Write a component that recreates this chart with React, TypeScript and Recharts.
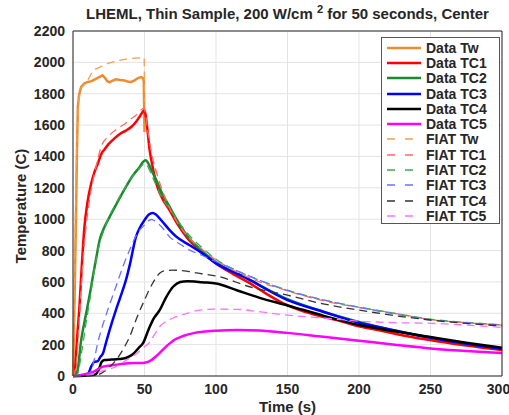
import { LineChart, Line, XAxis, YAxis, CartesianGrid } from "recharts";

// [time (s), temperature (C)]
const dataTw = [
  [0, 0], [0.5, 200], [1, 450], [1.5, 700], [2.2, 1078], [2.8, 1450], [3.4, 1715], [4.2, 1790],
  [5.7, 1843], [8, 1866], [10.4, 1875], [13, 1880], [16, 1895], [18, 1905], [20.6, 1917], [22, 1905],
  [24, 1880], [25.6, 1873], [27, 1880], [30, 1892], [33, 1888], [36, 1885], [38, 1878], [40.7, 1875],
  [43, 1885], [45.5, 1900], [47.7, 1906], [49, 1900], [49.5, 1880], [50, 1556],
];
const dataTC1 = [
  [0, 0], [1, 5], [2, 120], [3, 260], [4.5, 441], [6, 680], [8, 951], [10, 1100], [12.7, 1227],
  [15, 1300], [17.4, 1355], [20, 1420], [22, 1445], [25, 1480], [29, 1515], [33, 1545], [37, 1565],
  [40.7, 1588], [44, 1620], [47, 1660], [50, 1694], [51.3, 1630], [53.6, 1440], [56, 1320],
  [58.3, 1227], [62, 1140], [67.6, 1057], [73, 970], [79.3, 887], [90, 790], [100, 718], [112, 650],
  [123.6, 592], [135, 525], [146.7, 465], [160, 415], [170, 389], [185, 355], [199, 318], [215, 290],
  [230, 260], [249.6, 229], [270, 200], [285, 182], [300, 166],
];
const dataTC2 = [
  [0, 0], [1, 3], [3, 27], [5.7, 229], [9, 390], [12.7, 570], [14, 640], [16, 740], [18.6, 866],
  [22, 950], [25.6, 1015], [30, 1090], [37, 1206], [42, 1280], [46.6, 1333], [49, 1365], [50.8, 1376],
  [53, 1350], [55, 1310], [58.3, 1248], [62, 1170], [67.6, 1078], [73, 990], [79.3, 900], [90, 800],
  [100, 725], [120, 630], [150, 490], [175, 410], [200, 345], [225, 290], [250, 245], [275, 205], [300, 175],
];
const dataTC3 = [
  [0, 0], [8, 2], [10.4, 10], [12.7, 60], [15, 90], [17.4, 95], [19, 120], [21, 145], [23, 210],
  [25.6, 293], [30, 420], [33, 500], [37, 611], [40, 720], [44, 887], [47, 950], [50, 994], [53, 1030],
  [55.9, 1040], [58, 1030], [62, 990], [67.6, 930], [72, 890], [81.6, 834], [90, 785], [100, 718],
  [120, 630], [150, 484], [175, 410], [200, 340], [225, 290], [250, 243], [275, 205], [300, 172],
];
const dataTC4 = [
  [0, 0], [15, 8], [18, 40], [20, 90], [22, 102], [27, 105], [32, 108], [37, 115], [42, 140],
  [46, 180], [49, 210], [53, 300], [56, 360], [60.6, 420], [65, 500], [70, 569], [75, 600], [80, 605],
  [85, 603], [90, 598], [100, 590], [115, 545], [130, 500], [150, 450], [175, 385], [200, 325],
  [225, 285], [250, 248], [275, 212], [300, 180],
];
const dataTC5 = [
  [0, 0], [5, 5], [15, 30], [21, 60], [30, 72], [37, 80], [45, 83], [50, 85], [53.6, 95], [58, 125],
  [62, 160], [66, 195], [70, 225], [77, 255], [85, 275], [100, 289], [115, 293], [130, 290], [150, 275],
  [175, 250], [200, 225], [225, 200], [250, 176], [275, 160], [300, 146],
];
const fiatTw = [
  [0, 0], [1, 600], [2, 1200], [3, 1600], [4, 1760], [6, 1840], [10, 1880], [14, 1950], [20, 1975],
  [25, 1995], [30, 2008], [37, 2020], [43, 2027], [49.8, 2030], [50, 1750],
];
const fiatTC1 = [
  [0, 0], [2, 50], [4, 300], [6, 600], [8, 850], [10, 1020], [13, 1200], [16, 1330], [20, 1470],
  [25, 1530], [30, 1570], [35, 1600], [40, 1635], [45, 1670], [49, 1705], [50, 1700], [52, 1580],
  [55, 1420], [60, 1250], [67.6, 1070], [79.3, 900], [90, 810], [100, 740], [120, 640], [150, 543],
  [175, 480], [200, 437], [225, 400], [250, 360], [275, 340], [300, 325],
];
const fiatTC2 = [
  [0, 0], [3, 10], [6, 150], [9, 330], [12, 500], [15, 680], [18, 820], [22, 940], [26, 1030],
  [30, 1100], [37, 1210], [42, 1280], [47, 1330], [50, 1355], [52, 1340], [55, 1280], [58, 1220],
  [62, 1140], [67.6, 1065], [80, 910], [90, 820], [100, 745], [120, 650], [150, 548], [175, 485],
  [200, 440], [225, 400], [250, 362], [275, 342], [300, 327],
];
const fiatTC3 = [
  [0, 0], [10, 3], [13, 40], [15, 110], [17, 200], [20, 300], [25, 440], [30, 569], [35, 700],
  [39.6, 803], [45, 910], [50, 962], [54.7, 998], [58, 985], [62, 950], [67.6, 887], [75, 840],
  [81.6, 803], [90, 770], [100, 730], [120, 650], [150, 545], [175, 485], [200, 437], [225, 395],
  [250, 358], [275, 340], [300, 325],
];
const fiatTC4 = [
  [0, 0], [18, 10], [22, 30], [26, 60], [30, 100], [35, 170], [39.6, 250], [45, 380], [50, 484],
  [55, 580], [60.6, 655], [65, 672], [70, 675], [75, 673], [81.6, 665], [90, 652], [100, 638],
  [125, 565], [150, 515], [175, 460], [200, 420], [225, 385], [250, 357], [275, 335], [300, 320],
];
const fiatTC5 = [
  [0, 0], [10, 5], [20, 30], [30, 60], [37, 100], [44, 140], [49, 180], [53.6, 215], [57, 265],
  [60.6, 314], [65.3, 350], [70, 370], [81.6, 405], [88.6, 420], [100, 426], [115, 425], [130, 410],
  [150, 388], [175, 370], [200, 350], [225, 340], [250, 336], [275, 325], [300, 310],
];

const xTicks = [0, 50, 100, 150, 200, 250, 300];
const yTicks = [0, 200, 400, 600, 800, 1000, 1200, 1400, 1600, 1800, 2000, 2200];

const series = [
  { name: "Data Tw", pts: dataTw, color: "#ED8B2F", dash: false, curve: "linear" },
  { name: "Data TC1", pts: dataTC1, color: "#FF0000", dash: false, curve: "monotone" },
  { name: "Data TC2", pts: dataTC2, color: "#1B8A2E", dash: false, curve: "monotone" },
  { name: "Data TC3", pts: dataTC3, color: "#0000FF", dash: false, curve: "monotone" },
  { name: "Data TC4", pts: dataTC4, color: "#000000", dash: false, curve: "monotone" },
  { name: "Data TC5", pts: dataTC5, color: "#FF00FF", dash: false, curve: "monotone" },
  { name: "FIAT Tw", pts: fiatTw, color: "#F0A050", dash: true, curve: "linear" },
  { name: "FIAT TC1", pts: fiatTC1, color: "#FF6B6B", dash: true, curve: "monotone" },
  { name: "FIAT TC2", pts: fiatTC2, color: "#3DAA50", dash: true, curve: "monotone" },
  { name: "FIAT TC3", pts: fiatTC3, color: "#7070FF", dash: true, curve: "monotone" },
  { name: "FIAT TC4", pts: fiatTC4, color: "#333333", dash: true, curve: "monotone" },
  { name: "FIAT TC5", pts: fiatTC5, color: "#FF70FF", dash: true, curve: "monotone" },
];

const FONT = '"Liberation Sans", Arial, Helvetica, sans-serif';
const TICK = { fontSize: 14, fontWeight: "bold", fill: "#262626" };
const AX = "#262626";
const noLabel = () => <g />;

export default function App() {
  return (
    <div style={{ position: "relative", width: 509, height: 415, fontFamily: FONT, background: "#fff" }}>
      <style>{`body{margin:0}`}</style>
      <LineChart width={509} height={415} margin={{ top: 31, right: 7, bottom: 0, left: 0 }}>
        <CartesianGrid stroke="#e3e3e3" strokeWidth={1} horizontalValues={yTicks} verticalValues={xTicks} />
        <XAxis
          dataKey="t" type="number" domain={[0, 300]} ticks={xTicks} height={39}
          tick={TICK} tickLine={false} axisLine={{ stroke: AX }}
          label={{ value: "Time (s)", position: "insideBottom", offset: 3, fontSize: 15, fontWeight: "bold", fill: "#262626" }}
        />
        <YAxis
          type="number" domain={[0, 2200]} ticks={yTicks} width={73}
          tick={TICK} tickLine={false} axisLine={{ stroke: AX }}
        />
        <XAxis xAxisId="b2" type="number" domain={[0, 300]} ticks={xTicks} mirror tick={noLabel} tickSize={5} tickLine={{ stroke: AX }} axisLine={false} />
        <XAxis xAxisId="t2" orientation="top" type="number" domain={[0, 300]} ticks={xTicks} mirror tick={noLabel} tickSize={5} tickLine={{ stroke: AX }} axisLine={{ stroke: AX }} />
        <YAxis yAxisId="l2" type="number" domain={[0, 2200]} ticks={yTicks} mirror tick={noLabel} tickSize={5} tickLine={{ stroke: AX }} axisLine={false} />
        <YAxis yAxisId="r2" orientation="right" type="number" domain={[0, 2200]} ticks={yTicks} mirror tick={noLabel} tickSize={5} tickLine={{ stroke: AX }} axisLine={{ stroke: AX }} />
        {series.map((s) => (
          <Line
            key={s.name}
            name={s.name}
            data={s.pts.map(([t, v]) => ({ t, v }))}
            dataKey="v"
            type={s.curve as any}
            stroke={s.color}
            strokeWidth={s.dash ? 1.3 : 2.5}
            strokeDasharray={s.dash ? "8 5" : undefined}
            dot={false}
            isAnimationActive={false}
          />
        ))}
      </LineChart>

      <div style={{
        position: "absolute", left: 0, top: 3, width: 509, paddingLeft: 66, boxSizing: "border-box",
        textAlign: "center", fontSize: 15, fontWeight: "bold", color: "#262626", whiteSpace: "nowrap",
      }}>
        LHEML, Thin Sample, 200 W/cm <sup style={{ fontSize: 11 }}>2</sup> for 50 seconds, Center
      </div>

      <div style={{
        position: "absolute", left: 20, top: 206, transform: "translate(-50%, -50%) rotate(-90deg)",
        fontSize: 15, fontWeight: "bold", color: "#262626", whiteSpace: "nowrap",
      }}>
        Temperature (C)
      </div>

      <div style={{
        position: "absolute", left: 381, top: 37, width: 119, height: 187, boxSizing: "border-box",
        border: "1px solid #555", background: "#fff", padding: "2px 0 0 5px",
      }}>
        {series.map((s) => (
          <div key={s.name} style={{ display: "flex", alignItems: "center", height: 15.3 }}>
            <svg width={34} height={8} style={{ flex: "none" }}>
              <line x1={0} y1={4} x2={34} y2={4} stroke={s.color}
                strokeWidth={s.dash ? 1.3 : 2.5} strokeDasharray={s.dash ? "8 10" : undefined} />
            </svg>
            <span style={{ marginLeft: 5, fontSize: 14, fontWeight: "bold", color: "#262626", whiteSpace: "nowrap" }}>{s.name}</span>
          </div>
        ))}
      </div>
    </div>
  );
}
